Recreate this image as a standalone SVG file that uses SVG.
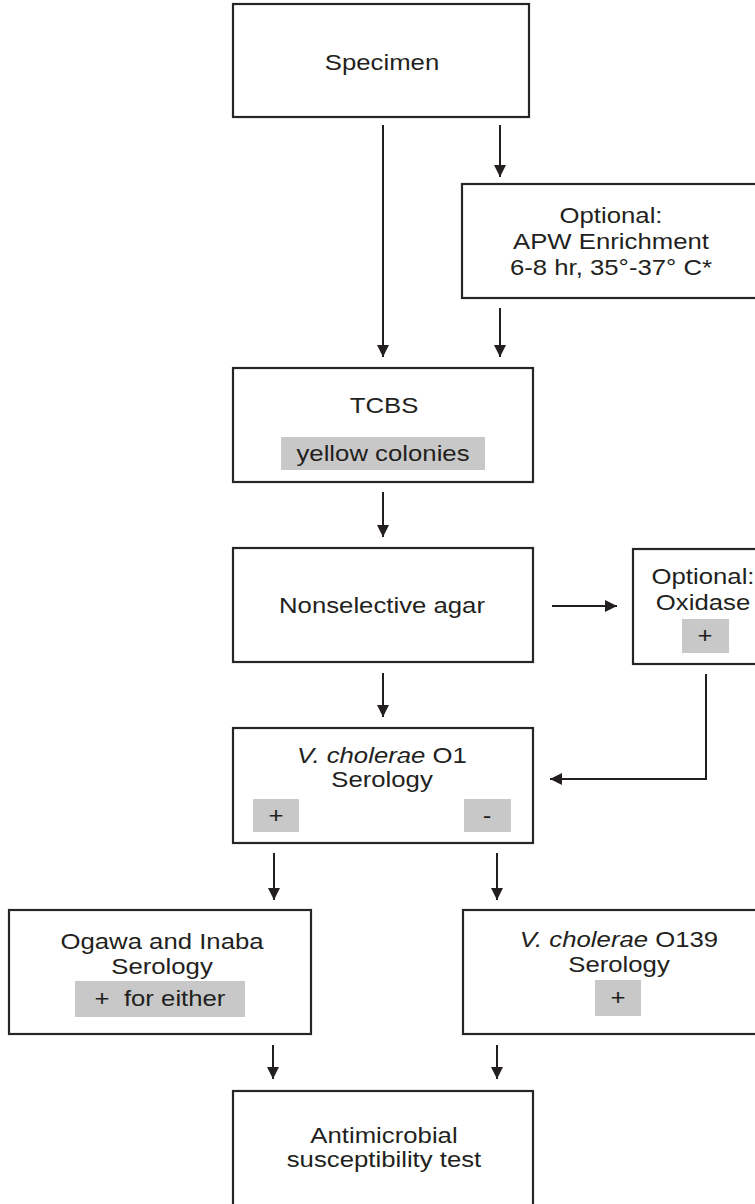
<svg xmlns="http://www.w3.org/2000/svg" width="755" height="1204" viewBox="0 0 755 1204">
<style>
.box{fill:#fff;stroke:#262626;stroke-width:2.2}
.tag{fill:#c8c8c8;stroke:none}
.t{font-family:"Liberation Sans",Arial,sans-serif;font-size:22px;fill:#231f20;text-anchor:middle}
.i{font-style:italic}
.c{fill:none;stroke:#231f20;stroke-width:2}
</style>
<defs>
<marker id="ah" markerUnits="userSpaceOnUse" markerWidth="13" markerHeight="13" refX="12" refY="6" orient="auto">
<path d="M0,0 L12,6 L0,12 z" fill="#231f20"/>
</marker>
</defs>
<rect width="755" height="1204" fill="#fff"/>
<g id="connectors">
<line class="c" x1="383" y1="125" x2="383" y2="357" marker-end="url(#ah)"/>
<line class="c" x1="500" y1="125" x2="500" y2="177" marker-end="url(#ah)"/>
<line class="c" x1="500" y1="308" x2="500" y2="357" marker-end="url(#ah)"/>
<line class="c" x1="383" y1="492" x2="383" y2="537" marker-end="url(#ah)"/>
<line class="c" x1="552" y1="606" x2="617" y2="606" marker-end="url(#ah)"/>
<polyline class="c" points="706,674 706,779 550,779" marker-end="url(#ah)"/>
<line class="c" x1="383" y1="673" x2="383" y2="717" marker-end="url(#ah)"/>
<line class="c" x1="274" y1="853" x2="274" y2="900" marker-end="url(#ah)"/>
<line class="c" x1="497" y1="853" x2="497" y2="900" marker-end="url(#ah)"/>
<line class="c" x1="273" y1="1045" x2="273" y2="1079" marker-end="url(#ah)"/>
<line class="c" x1="497" y1="1045" x2="497" y2="1079" marker-end="url(#ah)"/>
</g>
<g id="specimen">
<rect class="box" x="233" y="4" width="296" height="113"/>
<text class="t" transform="translate(382,0) scale(1.17,1)" x="0" y="70">Specimen</text>
</g>
<g id="apw">
<rect class="box" x="462" y="184" width="310" height="114"/>
<text class="t" transform="translate(611,0) scale(1.17,1)" x="0" y="223">Optional:</text>
<text class="t" transform="translate(611,0) scale(1.17,1)" x="0" y="249">APW Enrichment</text>
<text class="t" transform="translate(611,0) scale(1.17,1)" x="0" y="275">6-8 hr, 35°-37° C*</text>
</g>
<g id="tcbs">
<rect class="box" x="233" y="368" width="300" height="114"/>
<text class="t" transform="translate(384,0) scale(1.17,1)" x="0" y="413">TCBS</text>
<rect class="tag" x="281" y="437" width="204" height="33"/>
<text class="t" transform="translate(383,0) scale(1.17,1)" x="0" y="461">yellow colonies</text>
</g>
<g id="nonselective">
<rect class="box" x="233" y="548" width="300" height="114"/>
<text class="t" transform="translate(382,0) scale(1.17,1)" x="0" y="613">Nonselective agar</text>
</g>
<g id="oxidase">
<rect class="box" x="633" y="549" width="140" height="115"/>
<text class="t" transform="translate(703,0) scale(1.17,1)" x="0" y="584">Optional:</text>
<text class="t" transform="translate(703,0) scale(1.17,1)" x="0" y="610">Oxidase</text>
<rect class="tag" x="682" y="619" width="47" height="34"/>
<text class="t" transform="translate(705,0) scale(1.17,1)" x="0" y="643">+</text>
</g>
<g id="o1">
<rect class="box" x="233" y="728" width="300" height="115"/>
<text class="t" transform="translate(382,0) scale(1.17,1)" x="0" y="763"><tspan class="i">V. cholerae</tspan> O1</text>
<text class="t" transform="translate(382,0) scale(1.17,1)" x="0" y="787">Serology</text>
<rect class="tag" x="253" y="799" width="46" height="33"/>
<text class="t" transform="translate(276,0) scale(1.17,1)" x="0" y="823">+</text>
<rect class="tag" x="464" y="799" width="47" height="33"/>
<text class="t" transform="translate(487,0) scale(1.17,1)" x="0" y="823">-</text>
</g>
<g id="ogawa">
<rect class="box" x="9" y="910" width="302" height="124"/>
<text class="t" transform="translate(162,0) scale(1.17,1)" x="0" y="949">Ogawa and Inaba</text>
<text class="t" transform="translate(162,0) scale(1.17,1)" x="0" y="974">Serology</text>
<rect class="tag" x="75" y="981" width="170" height="36"/>
<text class="t" transform="translate(160,0) scale(1.17,1)" x="0" y="1006" xml:space="preserve">+  for either</text>
</g>
<g id="o139">
<rect class="box" x="463" y="910" width="312" height="124"/>
<text class="t" transform="translate(619,0) scale(1.17,1)" x="0" y="947"><tspan class="i">V. cholerae</tspan> O139</text>
<text class="t" transform="translate(619,0) scale(1.17,1)" x="0" y="972">Serology</text>
<rect class="tag" x="595" y="980" width="46" height="36"/>
<text class="t" transform="translate(618,0) scale(1.17,1)" x="0" y="1005">+</text>
</g>
<g id="antimicrobial">
<rect class="box" x="233" y="1091" width="300" height="130"/>
<text class="t" transform="translate(384,0) scale(1.17,1)" x="0" y="1143">Antimicrobial</text>
<text class="t" transform="translate(384,0) scale(1.17,1)" x="0" y="1167">susceptibility test</text>
</g>
</svg>
